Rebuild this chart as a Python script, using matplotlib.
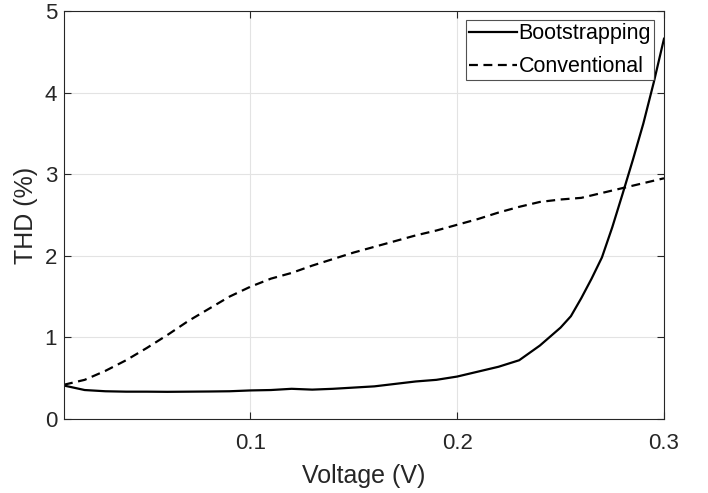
import matplotlib
matplotlib.use("Agg")
import matplotlib.pyplot as plt

# Data
boot_x = [0.01, 0.02, 0.03, 0.04, 0.05, 0.06, 0.07, 0.08, 0.09, 0.10, 0.11, 0.12,
          0.13, 0.14, 0.15, 0.16, 0.17, 0.18, 0.19, 0.20, 0.21, 0.22, 0.23, 0.24,
          0.245, 0.25, 0.255, 0.26, 0.265, 0.27, 0.275, 0.28, 0.285, 0.29, 0.295, 0.30]
boot_y = [0.41, 0.355, 0.34, 0.335, 0.335, 0.333, 0.335, 0.337, 0.34, 0.35, 0.355, 0.37,
          0.36, 0.37, 0.385, 0.40, 0.43, 0.46, 0.48, 0.52, 0.58, 0.64, 0.72, 0.90,
          1.01, 1.12, 1.26, 1.48, 1.72, 1.98, 2.35, 2.76, 3.18, 3.62, 4.12, 4.66]

conv_x = [0.01, 0.02, 0.03, 0.04, 0.05, 0.06, 0.07, 0.08, 0.09, 0.10, 0.11, 0.12,
          0.13, 0.14, 0.15, 0.16, 0.17, 0.18, 0.19, 0.20, 0.21, 0.22, 0.23, 0.24,
          0.25, 0.26, 0.27, 0.28, 0.29, 0.30]
conv_y = [0.42, 0.48, 0.59, 0.72, 0.87, 1.03, 1.20, 1.35, 1.50, 1.62, 1.72, 1.79,
          1.88, 1.96, 2.04, 2.11, 2.18, 2.25, 2.31, 2.38, 2.45, 2.53, 2.60, 2.66,
          2.69, 2.71, 2.77, 2.83, 2.89, 2.95]

x_ticks = [0.1, 0.2, 0.3]
x_tick_labels = ["0.1", "0.2", "0.3"]
y_ticks = [0, 1, 2, 3, 4, 5]

plt.rcParams['font.family'] = ['Liberation Sans', 'DejaVu Sans']

fig = plt.figure(figsize=(7.08, 4.93), dpi=100)
ax = fig.add_axes([64/708, 1 - 419/493, 600/708, 408/493])

ax.plot(boot_x, boot_y, color='black', lw=1.6, label='Bootstrapping')
ax.plot(conv_x, conv_y, color='black', lw=1.6, linestyle=(0, (4, 2.5)), label='Conventional')

ax.set_xlim(0.01, 0.3)
ax.set_ylim(0, 5)
ax.set_xticks(x_ticks)
ax.set_xticklabels(x_tick_labels)
ax.set_yticks(y_ticks)

ax.grid(True, color='#e3e3e3', lw=0.8)
ax.set_axisbelow(True)

dark = '#262626'
for s in ax.spines.values():
    s.set_color(dark)
    s.set_linewidth(0.8)
ax.tick_params(direction='in', length=5, width=0.8, color=dark,
               top=True, right=True, labelsize=16, labelcolor=dark)
ax.tick_params(axis='x', pad=10)
ax.tick_params(axis='y', pad=5)

ax.set_xlabel('Voltage (V)', fontsize=18, color=dark, labelpad=7)
ax.set_ylabel('THD (%)', fontsize=18, color=dark, labelpad=5)

leg = ax.legend(loc='upper right', bbox_to_anchor=(0.984, 0.978), borderaxespad=0,
                fontsize=15.5, frameon=True, fancybox=False, handlelength=2.2,
                handletextpad=0.1, labelspacing=0.55, borderpad=0.15)
leg.get_frame().set_edgecolor(dark)
leg.get_frame().set_linewidth(0.8)
for t in leg.get_texts():
    t.set_color('black')

fig.savefig('out.png', dpi=100)
